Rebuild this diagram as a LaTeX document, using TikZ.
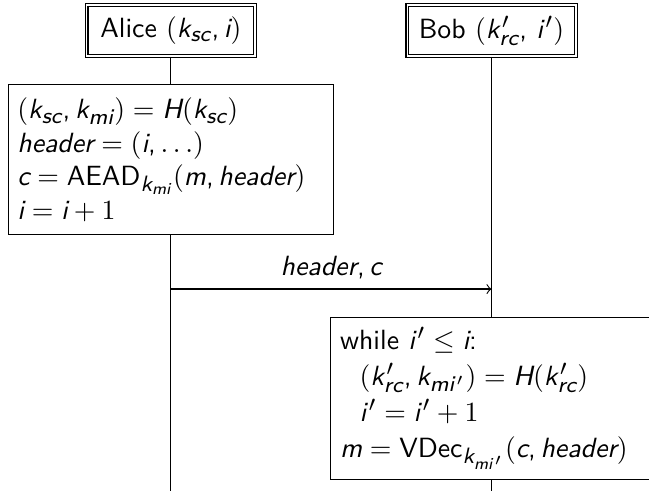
\documentclass[tikz,border=0pt]{standalone}
\usepackage{fontspec}
\setsansfont{Latin Modern Sans}
\renewcommand{\familydefault}{\sfdefault}
\usepackage[italic]{mathastext}
\usepackage{tikz}
\usetikzlibrary{positioning}
\newcommand{\pr}{^{\mkern2mu\prime}}
\tikzset{
  partyhead/.style={
    draw, double, fill=white,
    minimum width=2.13cm, minimum height=0.65cm,
    align=center
  },
  actionbox/.style={
    draw, fill=white, anchor=north,
    align=left
  },
  lifeline/.style={draw, line width=0.4pt},
  msgarr/.style={draw, ->, line width=0.4pt}
}

\begin{document}
\begin{tikzpicture}

  \useasboundingbox (0,0) rectangle (8.205,-6.207);
  \clip (0,0) rectangle (8.205,-6.207);

  %% ---- parties ----
  \node[partyhead] (alice) at (2.16,-0.386) {Alice $(k_{sc}, i)$};
  \node[partyhead] (bob) at (6.215,-0.386) {Bob $(k\pr_{rc},\, i\pr)$};

  %% ---- Alice sends ----
  \node[actionbox, text width=3.88cm, minimum height=1.90cm]
    (aliceact) at (2.16,-1.062) {
    $(k_{sc}, k_{mi}) = H(k_{sc})$\\
    $\mathit{header} = (i, \dots)$\\
    $c = \textnormal{AEAD}_{k_{mi}}(m, \mathit{header})$\\
    $i = i + 1$
  };

  %% ---- Bob receives ----
  \node[actionbox, text width=3.83cm, minimum height=2.0cm]
    (bobact) at (6.215,-4.008) {
    while $i\pr \leq i$:\\[1pt]
    \hspace{7pt}$(k\pr_{rc}, k_{mi\pr}) = H(k\pr_{rc})$\\[1pt]
    \hspace{7pt}$i\pr = i\pr + 1$\\[1pt]
    $m = \textnormal{VDec}_{k_{mi\pr}}(c, \mathit{header})$
  };

  \coordinate (sendpt) at (2.16,-3.654);
  \coordinate (recvpt) at (6.215,-3.654);
  \coordinate (aliceend) at (2.16,-6.3);
  \coordinate (bobend) at (6.215,-6.3);

  %% Lifelines
  \draw[lifeline] (alice) -- (aliceact);
  \draw[lifeline] (aliceact) -- (aliceend);
  \draw[lifeline] (bob) -- (bobact);
  \draw[lifeline] (bobact) -- (bobend);

  %% Message
  \draw[msgarr] (sendpt) -- (recvpt)
    node[midway,above]{$\mathit{header}, c$};

\end{tikzpicture}
\end{document}
